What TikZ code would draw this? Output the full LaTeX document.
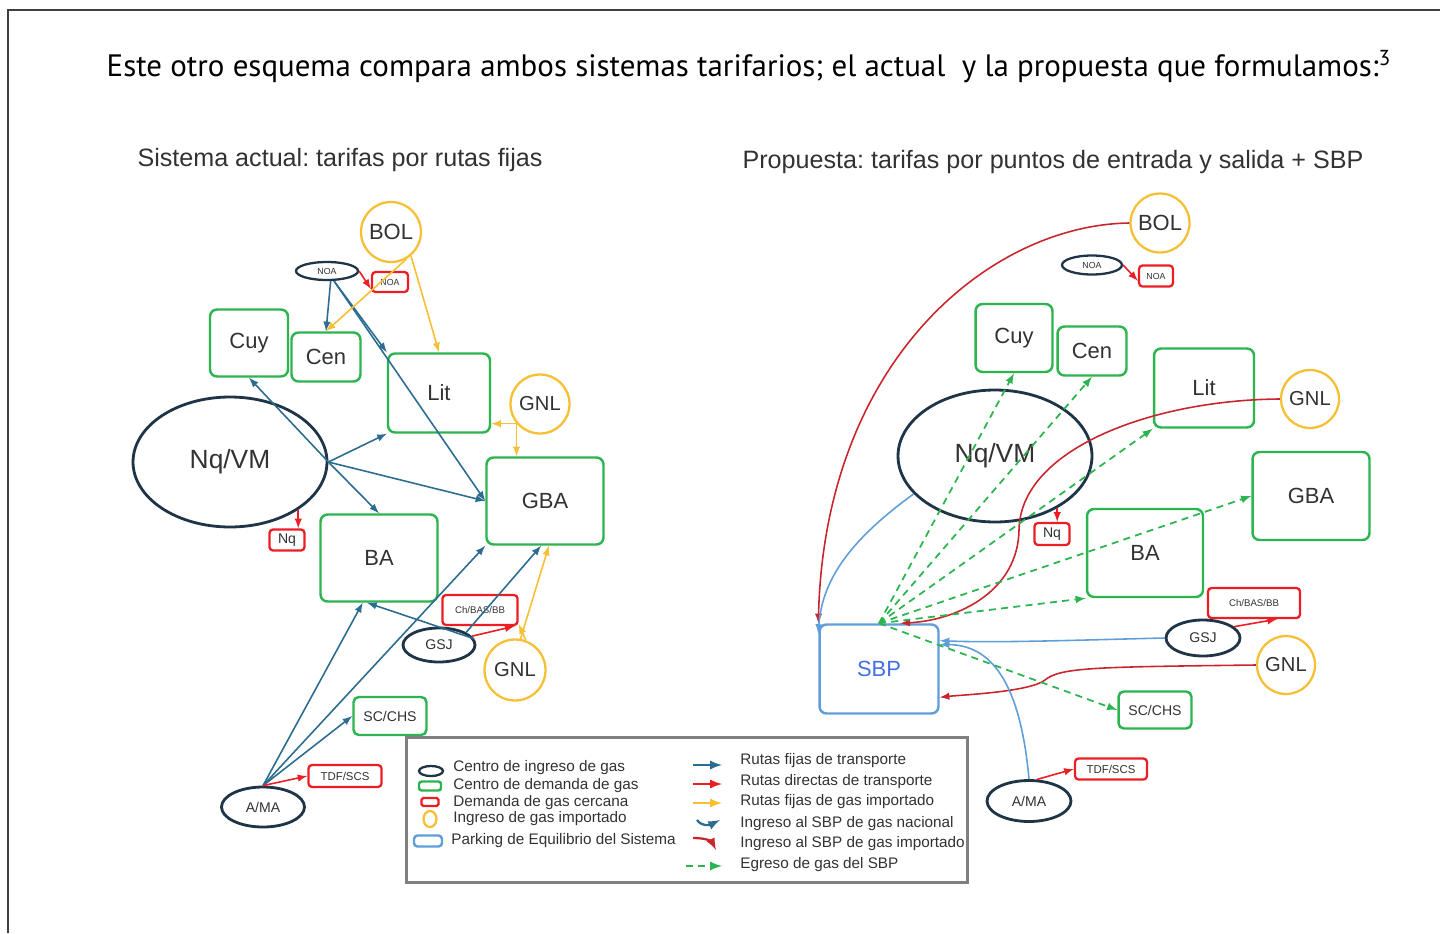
\documentclass[tikz,border=0pt]{standalone}
\usepackage{fontspec}
\setmainfont{Liberation Sans}
\newfontfamily\titlefont{PT Sans}
\usepackage{tikz}
\usetikzlibrary{arrows,shapes.geometric}
\usepackage{color}
\frenchspacing

\definecolor{navy}{RGB}{31,52,70}
\definecolor{dgreen}{RGB}{44,180,80}
\definecolor{nred}{RGB}{236,30,36}
\definecolor{gold}{RGB}{247,192,52}
\definecolor{route}{RGB}{44,108,145}
\definecolor{lblue}{RGB}{96,158,218}
\definecolor{dred}{RGB}{200,38,44}
\definecolor{txt}{RGB}{50,50,50}

\newcommand{\fhuge}{\fontsize{15}{17}\selectfont}
\newcommand{\fbig}{\fontsize{12.5}{14}\selectfont}
\newcommand{\fmid}{\fontsize{8}{9}\selectfont}
\newcommand{\ftiny}{\fontsize{5}{6}\selectfont}

\begin{document}
\begin{tikzpicture}[x=0.02cm,y=-0.02cm,
  ingreso/.style={ellipse,draw=navy,line width=1.6pt,inner sep=0pt,text=txt},
  demanda/.style={rectangle,rounded corners=4pt,draw=dgreen,line width=1.4pt,inner sep=0pt,text=txt},
  cercana/.style={rectangle,rounded corners=2pt,draw=nred,line width=1.3pt,inner sep=0pt,text=txt},
  importado/.style={circle,draw=gold,line width=1.3pt,inner sep=0pt,text=txt},
  parking/.style={rectangle,rounded corners=4pt,draw=lblue,line width=1.4pt,inner sep=0pt,text=lblue!70!blue},
  rutafija/.style={-latex,route,line width=0.9pt},
  rutadirecta/.style={-latex,nred,line width=0.9pt},
  rutaimp/.style={-latex,gold,line width=0.9pt},
  sbpnac/.style={-latex,lblue,line width=0.9pt},
  sbpimp/.style={-latex,dred,line width=0.9pt},
  egreso/.style={-latex,dgreen,line width=1pt,dash pattern=on 4pt off 3pt},
  keytext/.style={anchor=west,font=\fontsize{8.7}{10}\selectfont,text=txt,inner sep=0pt}]
\useasboundingbox (0,0) rectangle (1440,933);
\draw[line width=1pt,black!75] (8,933) -- (8,10) -- (1440,10);

\node[font=\titlefont\fontsize{17.6}{20}\selectfont] (title) at (749,67) {Este otro esquema compara ambos sistemas tarifarios; el actual\ \ y la propuesta que formulamos:\textsuperscript{3}};
\node[font=\fontsize{14.3}{16}\selectfont,text=txt] (ltitle) at (340,160) {Sistema actual: tarifas por rutas fijas};
\node[font=\fontsize{14.3}{16}\selectfont,text=txt] (rtitle) at (1053,162) {Propuesta: tarifas por puntos de entrada y salida + SBP};

% sistema actual
\node[importado,minimum size=1.2cm,font=\fbig] (lbol) at (391,232) {BOL};
\node[ingreso,minimum width=1.24cm,minimum height=0.36cm,line width=1.3pt,font=\ftiny] (lnoa) at (327,271) {NOA};
\node[cercana,minimum width=0.72cm,minimum height=0.4cm,font=\ftiny] (lnoab) at (390,282) {NOA};
\node[demanda,minimum width=1.56cm,minimum height=1.34cm,font=\fbig] (lcuy) at (249,343) {Cuy};
\node[demanda,minimum width=1.38cm,minimum height=0.98cm,font=\fbig] (lcen) at (326,357) {Cen};
\node[demanda,minimum width=2.04cm,minimum height=1.58cm,font=\fbig] (llit) at (439,393) {Lit};
\node[importado,minimum size=1.18cm,font=\fontsize{11.5}{13}\selectfont] (lgnla) at (540,404) {GNL};
\node[ingreso,minimum width=3.88cm,minimum height=2.6cm,font=\fhuge] (lnqvm) at (230,462) {Nq/VM};
\node[demanda,minimum width=2.34cm,minimum height=1.74cm,font=\fbig] (lgba) at (545,501) {GBA};
\node[cercana,minimum width=0.7cm,minimum height=0.42cm,font=\fmid] (lnq) at (287,540) {Nq};
\node[demanda,minimum width=2.34cm,minimum height=1.74cm,font=\fbig] (lba) at (379,558) {BA};
\node[cercana,minimum width=1.5cm,minimum height=0.6cm,font=\fontsize{5.5}{6}\selectfont] (lch) at (480,610) {Ch/BAS/BB};
\node[ingreso,minimum width=1.44cm,minimum height=0.68cm,font=\fmid] (lgsj) at (439,645) {GSJ};
\node[importado,minimum size=1.22cm,font=\fontsize{11.5}{13}\selectfont] (lgnlb) at (515,670) {GNL};
\node[demanda,minimum width=1.46cm,minimum height=0.76cm,rounded corners=3pt,font=\fmid] (lsc) at (390,716) {SC/CHS};
\node[ingreso,minimum width=1.66cm,minimum height=0.8cm,font=\fmid] (lama) at (263,807) {A/MA};
\node[cercana,minimum width=1.46cm,minimum height=0.44cm,font=\fontsize{6.5}{7}\selectfont] (ltdf) at (345,776) {TDF/SCS};

\draw[rutadirecta] (lnoa.east) -- (lnoab.200);
\draw[rutafija] (lnoa.-70) -- (lcen.north);
\draw[rutafija] (lnoa.-55) -- (llit.north west);
\draw[rutafija] (lnoa.-55) -- (lgba.west);
\draw[rutafija] (lnqvm.east) -- (lcuy.south);
\draw[rutafija] (lnqvm.east) -- (lba.north);
\draw[rutafija] (lnqvm.east) -- (llit.south west);
\draw[rutafija] (lnqvm.east) -- (lgba.west);
\draw[rutadirecta] (lnqvm.-35) -- (lnqvm.-35 |- lnq.north);
\draw[rutafija] (lama.north) -- (lba.250);
\draw[rutafija] (lama.north) -- (lgba.south west);
\draw[rutafija] (lama.north) -- (lsc.west);
\draw[rutadirecta] (lama.north) -- (ltdf.west);
\draw[rutafija] (lgsj.10) -- (lba.-105);
\draw[rutafija] (lgsj.25) -- (lgba.-95);
\draw[rutadirecta] (lgsj.15) -- (lch.-25);
\draw[rutaimp] (lgnlb.70) -- (lch.-20);
\draw[rutaimp] (lgnlb.80) -- (lgba.-85);
\draw[rutaimp] (lgnla.220) -- (llit.east |- lgnla.220);
\draw[rutaimp] (lgnla.220) -- (lgnla.220 |- lgba.north);
\draw[rutaimp] (lbol.-50) -- (llit.north);
\draw[rutaimp] (lbol.-60) -- (lcen.north);

% propuesta
\node[importado,minimum size=1.18cm,font=\fbig] (rbol) at (1160,223) {BOL};
\node[ingreso,minimum width=1.2cm,minimum height=0.38cm,line width=1.3pt,font=\ftiny] (rnoa) at (1092,265) {NOA};
\node[cercana,minimum width=0.68cm,minimum height=0.42cm,font=\ftiny] (rnoab) at (1156,276) {NOA};
\node[demanda,minimum width=1.54cm,minimum height=1.36cm,font=\fbig] (rcuy) at (1014,338) {Cuy};
\node[demanda,minimum width=1.38cm,minimum height=0.98cm,font=\fbig] (rcen) at (1092,351) {Cen};
\node[demanda,minimum width=2cm,minimum height=1.58cm,font=\fbig] (rlit) at (1204,388) {Lit};
\node[importado,minimum size=1.16cm,font=\fontsize{11.5}{13}\selectfont] (rgnla) at (1310,399) {GNL};
\node[ingreso,minimum width=3.88cm,minimum height=2.64cm,font=\fhuge] (rnqvm) at (995,456) {Nq/VM};
\node[demanda,minimum width=2.34cm,minimum height=1.76cm,font=\fbig] (rgba) at (1311,496) {GBA};
\node[cercana,minimum width=0.7cm,minimum height=0.44cm,font=\fmid] (rnq) at (1052,534) {Nq};
\node[demanda,minimum width=2.32cm,minimum height=1.76cm,font=\fbig] (rba) at (1145,553) {BA};
\node[parking,minimum width=2.38cm,minimum height=1.78cm,font=\fbig] (rsbp) at (879,669) {SBP};
\node[cercana,minimum width=1.84cm,minimum height=0.6cm,font=\fontsize{5.5}{6}\selectfont] (rch) at (1254,603) {Ch/BAS/BB};
\node[ingreso,minimum width=1.48cm,minimum height=0.72cm,font=\fmid] (rgsj) at (1203,638) {GSJ};
\node[importado,minimum size=1.16cm,font=\fontsize{11.5}{13}\selectfont] (rgnlb) at (1286,665) {GNL};
\node[demanda,minimum width=1.46cm,minimum height=0.74cm,rounded corners=3pt,font=\fmid] (rsc) at (1155,710) {SC/CHS};
\node[ingreso,minimum width=1.68cm,minimum height=0.82cm,font=\fmid] (rama) at (1029,801) {A/MA};
\node[cercana,minimum width=1.44cm,minimum height=0.42cm,font=\fontsize{6.5}{7}\selectfont] (rtdf) at (1111,769) {TDF/SCS};

\draw[rutadirecta] (rnoa.east) -- (rnoab.195);
\draw[rutadirecta] (rnqvm.-40) -- (rnqvm.-40 |- rnq.north);
\draw[rutadirecta] (rama.70) -- (rtdf.west);
\draw[rutadirecta] (rgsj.20) -- (rch.-35);
\draw[sbpimp] (rbol.west) .. controls (990,225) and (825,360) .. (rsbp.north west);
\draw[sbpimp] (rgnla.west) .. controls (1150,400) and (1020,450) .. (1019,530) .. controls (1018,590) and (960,620) .. (rsbp.65);
\draw[sbpimp] (rgnlb.west) .. controls (1100,667) and (1060,667) .. (1045,680) .. controls (1030,692) and (960,695) .. (rsbp.-25);
\draw[sbpnac] (rnqvm.205) .. controls (850,540) and (822,580) .. (rsbp.150);
\draw[sbpnac] (rgsj.west) .. controls (1080,640) and (1000,643) .. (rsbp.25);
\draw[sbpnac] (rama.north) .. controls (1020,680) and (990,645) .. (rsbp.22);
\foreach \t in {rcuy.south,rcen.south,rlit.south west,rgba.west,rba.south west,rsc.west}
  \draw[egreso] (rsbp.north) -- (\t);

% leyenda
\node[draw=black!50,line width=1.6pt,minimum width=11.22cm,minimum height=2.9cm,inner sep=0pt] (legend) at (687,810) {};
\node[ingreso,minimum width=0.48cm,minimum height=0.2cm,line width=1.3pt] (kingreso) at (431,771) {};
\node[demanda,minimum width=0.44cm,minimum height=0.18cm,rounded corners=1.5pt] (kdemanda) at (430,786) {};
\node[cercana,minimum width=0.34cm,minimum height=0.16cm,rounded corners=1pt] (kcercana) at (430,802) {};
\node[ellipse,draw=gold,line width=1.3pt,inner sep=0pt,minimum width=0.26cm,minimum height=0.32cm] (kimport) at (430,819) {};
\node[parking,minimum width=0.56cm,minimum height=0.22cm,rounded corners=2pt] (kparking) at (428,841) {};
\node[keytext] (tingreso) at (453,768) {Centro de ingreso de gas};
\node[keytext] (tdemanda) at (453,786) {Centro de demanda de gas};
\node[keytext] (tcercana) at (453,803) {Demanda de gas cercana};
\node[keytext] (timport) at (453,819) {Ingreso de gas importado};
\node[keytext] (tparking) at (451,841) {Parking de Equilibrio del Sistema};

\coordinate (ka1) at (693,765); \coordinate (kb1) at (722,765);
\coordinate (ka2) at (693,784); \coordinate (kb2) at (722,784);
\coordinate (ka3) at (693,803); \coordinate (kb3) at (722,803);
\coordinate (ka4) at (697,820); \coordinate (kb4) at (720,820);
\coordinate (ka5) at (693,838); \coordinate (kb5) at (716,850);
\coordinate (ka6) at (686,866); \coordinate (kb6) at (722,866);
\draw[rutafija,line width=1.3pt] (ka1) -- (kb1);
\draw[rutadirecta,line width=1.3pt] (ka2) -- (kb2);
\draw[rutaimp,line width=1.3pt] (ka3) -- (kb3);
\draw[rutafija,line width=1.3pt] (ka4) .. controls (702,827) and (710,825) .. (kb4);
\draw[sbpimp,line width=1.3pt] (ka5) .. controls (708,838) and (712,842) .. (kb5);
\draw[egreso,line width=1.3pt] (ka6) -- (kb6);
\node[keytext] (trutafija) at (740,761) {Rutas fijas de transporte};
\node[keytext] (trutadir) at (740,782) {Rutas directas de transporte};
\node[keytext] (trutaimp) at (740,802) {Rutas fijas de gas importado};
\node[keytext] (tsbpnac) at (740,824) {Ingreso al SBP de gas nacional};
\node[keytext] (tsbpimp) at (740,844) {Ingreso al SBP de gas importado};
\node[keytext] (tegreso) at (740,865) {Egreso de gas del SBP};
\end{tikzpicture}
\end{document}
